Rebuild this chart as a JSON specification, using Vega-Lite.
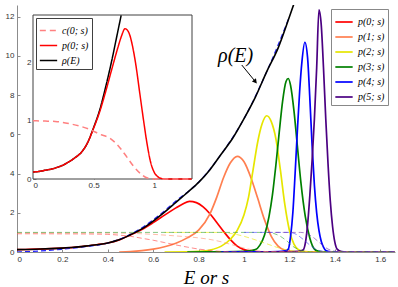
{
"$schema": "https://vega.github.io/schema/vega-lite/v6.json",
"width": 378, "height": 247,
"autosize": "none",
"padding": {"left": 17, "top": 5, "right": 3, "bottom": 35},
"background": "white",
"config": {"view": {"stroke": null},
 "axis": {"grid": false, "domainColor": "#8c8c8c", "tickColor": "#8c8c8c", "labelFont": "Liberation Sans", "labelFontSize": 8, "labelColor": "#333333", "tickSize": -3, "labelPadding": 6}},
"datasets": {
"main": [
{"k":"ρ(E)","s":0,"v":0.12},{"k":"ρ(E)","s":0.05,"v":0.13},{"k":"ρ(E)","s":0.1,"v":0.15},{"k":"ρ(E)","s":0.15,"v":0.17},{"k":"ρ(E)","s":0.2,"v":0.2},{"k":"ρ(E)","s":0.25,"v":0.24},{"k":"ρ(E)","s":0.3,"v":0.3},{"k":"ρ(E)","s":0.35,"v":0.37},{"k":"ρ(E)","s":0.4,"v":0.46},{"k":"ρ(E)","s":0.45,"v":0.62},{"k":"ρ(E)","s":0.5,"v":0.88},{"k":"ρ(E)","s":0.55,"v":1.18},{"k":"ρ(E)","s":0.6,"v":1.58},{"k":"ρ(E)","s":0.65,"v":2.03},{"k":"ρ(E)","s":0.7,"v":2.53},{"k":"ρ(E)","s":0.728,"v":2.81},{"k":"ρ(E)","s":0.75,"v":3.03},{"k":"ρ(E)","s":0.8,"v":3.55},{"k":"ρ(E)","s":0.85,"v":4.2},{"k":"ρ(E)","s":0.9,"v":5.0},{"k":"ρ(E)","s":0.95,"v":5.8},{"k":"ρ(E)","s":1.0,"v":6.8},{"k":"ρ(E)","s":1.05,"v":7.9},{"k":"ρ(E)","s":1.1,"v":9.2},{"k":"ρ(E)","s":1.15,"v":10.4},{"k":"ρ(E)","s":1.2,"v":12.0},{"k":"ρ(E)","s":1.23,"v":13.0},
{"k":"p(0; s)","s":0,"v":0.12},{"k":"p(0; s)","s":0.05,"v":0.13},{"k":"p(0; s)","s":0.1,"v":0.15},{"k":"p(0; s)","s":0.15,"v":0.17},{"k":"p(0; s)","s":0.2,"v":0.2},{"k":"p(0; s)","s":0.25,"v":0.24},{"k":"p(0; s)","s":0.3,"v":0.3},{"k":"p(0; s)","s":0.35,"v":0.37},{"k":"p(0; s)","s":0.4,"v":0.46},{"k":"p(0; s)","s":0.45,"v":0.62},{"k":"p(0; s)","s":0.5,"v":0.87},{"k":"p(0; s)","s":0.55,"v":1.15},{"k":"p(0; s)","s":0.6,"v":1.5},{"k":"p(0; s)","s":0.65,"v":1.88},{"k":"p(0; s)","s":0.7,"v":2.25},{"k":"p(0; s)","s":0.73,"v":2.45},{"k":"p(0; s)","s":0.76,"v":2.58},{"k":"p(0; s)","s":0.79,"v":2.52},{"k":"p(0; s)","s":0.82,"v":2.3},{"k":"p(0; s)","s":0.85,"v":1.95},{"k":"p(0; s)","s":0.88,"v":1.5},{"k":"p(0; s)","s":0.91,"v":1.05},{"k":"p(0; s)","s":0.94,"v":0.63},{"k":"p(0; s)","s":0.97,"v":0.3},{"k":"p(0; s)","s":1.0,"v":0.12},{"k":"p(0; s)","s":1.03,"v":0.04},{"k":"p(0; s)","s":1.06,"v":0.01},{"k":"p(0; s)","s":1.1,"v":0},{"k":"p(0; s)","s":1.31,"v":0},{"k":"p(0; s)","s":1.665,"v":0},
{"k":"p(1; s)","s":0.45,"v":0},{"k":"p(1; s)","s":0.5,"v":0.02},{"k":"p(1; s)","s":0.55,"v":0.07},{"k":"p(1; s)","s":0.6,"v":0.15},{"k":"p(1; s)","s":0.65,"v":0.27},{"k":"p(1; s)","s":0.7,"v":0.45},{"k":"p(1; s)","s":0.75,"v":0.72},{"k":"p(1; s)","s":0.8,"v":1.12},{"k":"p(1; s)","s":0.85,"v":1.95},{"k":"p(1; s)","s":0.88,"v":2.8},{"k":"p(1; s)","s":0.91,"v":3.8},{"k":"p(1; s)","s":0.94,"v":4.55},{"k":"p(1; s)","s":0.97,"v":4.88},{"k":"p(1; s)","s":1.0,"v":4.6},{"k":"p(1; s)","s":1.03,"v":3.8},{"k":"p(1; s)","s":1.06,"v":2.75},{"k":"p(1; s)","s":1.09,"v":1.65},{"k":"p(1; s)","s":1.12,"v":0.8},{"k":"p(1; s)","s":1.15,"v":0.3},{"k":"p(1; s)","s":1.18,"v":0.09},{"k":"p(1; s)","s":1.22,"v":0.02},{"k":"p(1; s)","s":1.26,"v":0},{"k":"p(1; s)","s":1.665,"v":0},
{"k":"p(2; s)","s":0.65,"v":0},{"k":"p(2; s)","s":0.75,"v":0.01},{"k":"p(2; s)","s":0.8,"v":0.03},{"k":"p(2; s)","s":0.85,"v":0.1},{"k":"p(2; s)","s":0.9,"v":0.3},{"k":"p(2; s)","s":0.94,"v":0.65},{"k":"p(2; s)","s":0.97,"v":1.1},{"k":"p(2; s)","s":1.0,"v":1.9},{"k":"p(2; s)","s":1.02,"v":2.8},{"k":"p(2; s)","s":1.04,"v":4.2},{"k":"p(2; s)","s":1.06,"v":5.6},{"k":"p(2; s)","s":1.08,"v":6.55},{"k":"p(2; s)","s":1.1,"v":6.95},{"k":"p(2; s)","s":1.12,"v":6.65},{"k":"p(2; s)","s":1.14,"v":5.8},{"k":"p(2; s)","s":1.16,"v":4.2},{"k":"p(2; s)","s":1.18,"v":2.4},{"k":"p(2; s)","s":1.2,"v":1.1},{"k":"p(2; s)","s":1.22,"v":0.4},{"k":"p(2; s)","s":1.24,"v":0.12},{"k":"p(2; s)","s":1.27,"v":0.02},{"k":"p(2; s)","s":1.3,"v":0},{"k":"p(2; s)","s":1.665,"v":0},
{"k":"p(3; s)","s":0.75,"v":0},{"k":"p(3; s)","s":0.9,"v":0.01},{"k":"p(3; s)","s":1.0,"v":0.03},{"k":"p(3; s)","s":1.05,"v":0.12},{"k":"p(3; s)","s":1.07,"v":0.35},{"k":"p(3; s)","s":1.09,"v":0.85},{"k":"p(3; s)","s":1.11,"v":1.8},{"k":"p(3; s)","s":1.125,"v":2.9},{"k":"p(3; s)","s":1.14,"v":4.4},{"k":"p(3; s)","s":1.155,"v":6.1},{"k":"p(3; s)","s":1.17,"v":7.7},{"k":"p(3; s)","s":1.185,"v":8.7},{"k":"p(3; s)","s":1.195,"v":8.85},{"k":"p(3; s)","s":1.205,"v":8.5},{"k":"p(3; s)","s":1.22,"v":7.2},{"k":"p(3; s)","s":1.235,"v":5.4},{"k":"p(3; s)","s":1.25,"v":3.6},{"k":"p(3; s)","s":1.27,"v":1.8},{"k":"p(3; s)","s":1.29,"v":0.7},{"k":"p(3; s)","s":1.31,"v":0.15},{"k":"p(3; s)","s":1.33,"v":0.03},{"k":"p(3; s)","s":1.36,"v":0},{"k":"p(3; s)","s":1.665,"v":0},
{"k":"p(4; s)","s":0.9,"v":0},{"k":"p(4; s)","s":1.1,"v":0.01},{"k":"p(4; s)","s":1.15,"v":0.02},{"k":"p(4; s)","s":1.18,"v":0.06},{"k":"p(4; s)","s":1.195,"v":0.15},{"k":"p(4; s)","s":1.205,"v":0.8},{"k":"p(4; s)","s":1.215,"v":2.0},{"k":"p(4; s)","s":1.225,"v":4.0},{"k":"p(4; s)","s":1.235,"v":6.2},{"k":"p(4; s)","s":1.245,"v":8.2},{"k":"p(4; s)","s":1.255,"v":9.7},{"k":"p(4; s)","s":1.268,"v":10.7},{"k":"p(4; s)","s":1.28,"v":9.9},{"k":"p(4; s)","s":1.29,"v":7.8},{"k":"p(4; s)","s":1.3,"v":5.4},{"k":"p(4; s)","s":1.31,"v":3.4},{"k":"p(4; s)","s":1.32,"v":2.0},{"k":"p(4; s)","s":1.33,"v":1.1},{"k":"p(4; s)","s":1.34,"v":0.55},{"k":"p(4; s)","s":1.35,"v":0.25},{"k":"p(4; s)","s":1.36,"v":0.08},{"k":"p(4; s)","s":1.38,"v":0.01},{"k":"p(4; s)","s":1.4,"v":0},{"k":"p(4; s)","s":1.665,"v":0},
{"k":"p(5; s)","s":1.07,"v":0},{"k":"p(5; s)","s":1.2,"v":0.01},{"k":"p(5; s)","s":1.24,"v":0.03},{"k":"p(5; s)","s":1.26,"v":0.1},{"k":"p(5; s)","s":1.27,"v":0.45},{"k":"p(5; s)","s":1.28,"v":1.4},{"k":"p(5; s)","s":1.29,"v":2.9},{"k":"p(5; s)","s":1.3,"v":4.7},{"k":"p(5; s)","s":1.31,"v":6.8},{"k":"p(5; s)","s":1.32,"v":9.4},{"k":"p(5; s)","s":1.33,"v":12.35},{"k":"p(5; s)","s":1.34,"v":11.6},{"k":"p(5; s)","s":1.35,"v":9.4},{"k":"p(5; s)","s":1.36,"v":6.8},{"k":"p(5; s)","s":1.37,"v":4.5},{"k":"p(5; s)","s":1.38,"v":2.6},{"k":"p(5; s)","s":1.39,"v":1.3},{"k":"p(5; s)","s":1.4,"v":0.5},{"k":"p(5; s)","s":1.41,"v":0.15},{"k":"p(5; s)","s":1.43,"v":0.02},{"k":"p(5; s)","s":1.45,"v":0},{"k":"p(5; s)","s":1.665,"v":0},
{"k":"c0","s":0,"v":0.93},{"k":"c0","s":0.2,"v":0.925},{"k":"c0","s":0.3,"v":0.92},{"k":"c0","s":0.4,"v":0.9},{"k":"c0","s":0.45,"v":0.86},{"k":"c0","s":0.5,"v":0.8},{"k":"c0","s":0.55,"v":0.7},{"k":"c0","s":0.6,"v":0.6},{"k":"c0","s":0.65,"v":0.48},{"k":"c0","s":0.7,"v":0.36},{"k":"c0","s":0.75,"v":0.25},{"k":"c0","s":0.8,"v":0.15},{"k":"c0","s":0.85,"v":0.08},{"k":"c0","s":0.9,"v":0.03},{"k":"c0","s":0.95,"v":0.01},{"k":"c0","s":1.0,"v":0},{"k":"c0","s":1.665,"v":0},
{"k":"c1","s":0,"v":0.97},{"k":"c1","s":0.4,"v":0.965},{"k":"c1","s":0.5,"v":0.95},{"k":"c1","s":0.6,"v":0.9},{"k":"c1","s":0.7,"v":0.82},{"k":"c1","s":0.8,"v":0.72},{"k":"c1","s":0.85,"v":0.64},{"k":"c1","s":0.9,"v":0.52},{"k":"c1","s":0.95,"v":0.36},{"k":"c1","s":1.0,"v":0.2},{"k":"c1","s":1.05,"v":0.08},{"k":"c1","s":1.1,"v":0.02},{"k":"c1","s":1.15,"v":0},{"k":"c1","s":1.665,"v":0},
{"k":"c2","s":0.65,"v":1},{"k":"c2","s":0.9,"v":1},{"k":"c2","s":0.95,"v":0.93},{"k":"c2","s":1.0,"v":0.8},{"k":"c2","s":1.05,"v":0.62},{"k":"c2","s":1.1,"v":0.42},{"k":"c2","s":1.15,"v":0.22},{"k":"c2","s":1.2,"v":0.08},{"k":"c2","s":1.25,"v":0.02},{"k":"c2","s":1.3,"v":0},{"k":"c2","s":1.665,"v":0},
{"k":"c3","s":0,"v":1},{"k":"c3","s":1.1,"v":1},{"k":"c3","s":1.13,"v":0.95},{"k":"c3","s":1.16,"v":0.8},{"k":"c3","s":1.19,"v":0.55},{"k":"c3","s":1.22,"v":0.25},{"k":"c3","s":1.25,"v":0.08},{"k":"c3","s":1.28,"v":0.02},{"k":"c3","s":1.3,"v":0},{"k":"c3","s":1.665,"v":0},
{"k":"c4","s":1.0,"v":1},{"k":"c4","s":1.2,"v":1},{"k":"c4","s":1.23,"v":0.9},{"k":"c4","s":1.26,"v":0.65},{"k":"c4","s":1.29,"v":0.35},{"k":"c4","s":1.32,"v":0.12},{"k":"c4","s":1.35,"v":0.03},{"k":"c4","s":1.38,"v":0},{"k":"c4","s":1.665,"v":0},
{"k":"c5","s":1.1,"v":1},{"k":"c5","s":1.25,"v":1},{"k":"c5","s":1.28,"v":0.92},{"k":"c5","s":1.31,"v":0.7},{"k":"c5","s":1.34,"v":0.4},{"k":"c5","s":1.37,"v":0.15},{"k":"c5","s":1.4,"v":0.04},{"k":"c5","s":1.43,"v":0},{"k":"c5","s":1.665,"v":0},
{"k":"fit","s":0,"v":0.0},{"k":"fit","s":0.1,"v":0.05},{"k":"fit","s":0.2,"v":0.14},{"k":"fit","s":0.3,"v":0.27},{"k":"fit","s":0.4,"v":0.46},{"k":"fit","s":0.5,"v":0.9},{"k":"fit","s":0.6,"v":1.64},{"k":"fit","s":0.7,"v":2.6},{"k":"fit","s":0.8,"v":3.56},{"k":"fit","s":0.9,"v":5.0},{"k":"fit","s":1.0,"v":6.8},{"k":"fit","s":1.1,"v":9.2},{"k":"fit","s":1.2,"v":12.0},
{"k":"c(0; s)","s":0,"v":1.0},{"k":"c(0; s)","s":0.1,"v":0.995},{"k":"c(0; s)","s":0.2,"v":0.985},{"k":"c(0; s)","s":0.3,"v":0.95},{"k":"c(0; s)","s":0.4,"v":0.9},{"k":"c(0; s)","s":0.47,"v":0.85},{"k":"c(0; s)","s":0.55,"v":0.77},{"k":"c(0; s)","s":0.636,"v":0.7},{"k":"c(0; s)","s":0.7,"v":0.58},{"k":"c(0; s)","s":0.774,"v":0.38},{"k":"c(0; s)","s":0.83,"v":0.22},{"k":"c(0; s)","s":0.884,"v":0.1},{"k":"c(0; s)","s":0.94,"v":0.02},{"k":"c(0; s)","s":1.0,"v":0},{"k":"c(0; s)","s":1.31,"v":0}
],
"notes": [{"s":0.963,"v":9.69,"label":"ρ(E)"}],
"arrow": [{"s":0.99,"v":9.54,"s2":1.05,"v2":8.69}],
"box": [{"s":0,"s2":1.313,"v":0,"v2":2.816}]
},
"layer": [
{
 "data": {"name": "main"},
 "encoding": {
  "x": {"field":"s","type":"quantitative","scale":{"domain":[0,1.665],"nice":false,"zero":false},
        "axis":{"values":[0,0.2,0.4,0.6,0.8,1,1.2,1.4,1.6],"format":"~g","title":"E or s","titleFont":"Liberation Serif","titleFontSize":19,"titleFontWeight":"normal","titleFontStyle":"italic","titleColor":"#000000","titlePadding":5}},
  "y": {"field":"v","type":"quantitative","scale":{"domain":[0,12.6],"nice":false},
        "axis":{"values":[0,2,4,6,8,10,12],"title":null}}
 },
 "layer": [
  {"transform":[{"filter":{"field":"k","oneOf":["p(0; s)","p(1; s)","p(2; s)","p(3; s)","p(4; s)","p(5; s)"]}}],
   "mark":{"type":"line","strokeWidth":1.7,"interpolate":"monotone","clip":true},
   "encoding":{"color":{"field":"k","type":"nominal",
     "scale":{"domain":["p(0; s)","p(1; s)","p(2; s)","p(3; s)","p(4; s)","p(5; s)"],"range":["#ff0000","#ff7f50","#e6e600","#008000","#0000ff","#4b0082"]},
     "legend":{"orient":"none","legendX":314,"legendY":4,"title":null,"symbolType":"stroke","symbolSize":300,"symbolStrokeWidth":1.7,"labelFont":"Liberation Serif","labelFontStyle":"italic","labelFontSize":10,"labelColor":"#000","strokeColor":"#888888","fillColor":"white","padding":3,"rowPadding":0,"labelOffset":4}}}},
  {"transform":[{"filter":{"field":"k","oneOf":["c0","c1","c2","c3","c4","c5"]}}],
   "mark":{"type":"line","strokeWidth":1,"strokeDash":[5,3],"opacity":0.6,"interpolate":"monotone","clip":true},
   "encoding":{"color":{"field":"k","type":"nominal","scale":{"domain":["c0","c1","c2","c3","c4","c5"],"range":["#ff4040","#ff9070","#e6e600","#30a030","#4040ff","#7030b0"]},"legend":null}}},
  {"transform":[{"filter":{"field":"k","equal":"fit"}}],
   "mark":{"type":"line","strokeWidth":1.2,"strokeDash":[5,3],"color":"#2020ff","interpolate":"monotone","clip":true}},
  {"transform":[{"filter":{"field":"k","equal":"ρ(E)"}}],
   "mark":{"type":"line","strokeWidth":1.6,"color":"#000000","interpolate":"monotone","clip":true}},
  {"data":{"name":"notes"},"mark":{"type":"text","font":"Liberation Serif","fontSize":20,"fontStyle":"italic","baseline":"alphabetic","align":"center","color":"#000"},
   "encoding":{"text":{"field":"label"}}},
  {"data":{"name":"arrow"},"mark":{"type":"rule","strokeWidth":1,"color":"#000"},
   "encoding":{"x2":{"field":"s2"},"y2":{"field":"v2"}}},
  {"data":{"name":"arrow"},"mark":{"type":"point","shape":"triangle-up","filled":true,"size":28,"angle":140,"color":"#000","opacity":1},
   "encoding":{"x":{"field":"s2","type":"quantitative"},"y":{"field":"v2","type":"quantitative"}}}
 ],
 "resolve":{"scale":{"color":"independent"}}
},
{
 "data": {"name": "main"},
 "encoding": {
  "x": {"field":"s","type":"quantitative","scale":{"domain":[0,1.313],"range":[16,175],"nice":false,"zero":false},
        "axis":{"orient":"bottom","offset":-73,"values":[0,0.5,1],"format":"~g","title":null,"domain":false,"labelPadding":5}},
  "y": {"field":"v","type":"quantitative","scale":{"domain":[0,2.816],"range":[174,10],"nice":false},
        "axis":{"orient":"left","offset":-16,"values":[0,1,2],"title":null,"domain":false,"labelPadding":5}}
 },
 "layer": [
  {"data":{"name":"box"},"mark":{"type":"rect","fill":"white","stroke":"#404040","strokeWidth":1},
   "encoding":{"x2":{"field":"s2"},"y2":{"field":"v2"}}},
  {"transform":[{"filter":{"field":"k","oneOf":["c(0; s)","p(0; s)","ρ(E)"]}},{"filter":"datum.s <= 1.313 && datum.v <= 2.816"}],
   "mark":{"type":"line","interpolate":"monotone","strokeWidth":1.5},
   "encoding":{
    "color":{"field":"k","type":"nominal","scale":{"domain":["c(0; s)","p(0; s)","ρ(E)"],"range":["#ff8080","#ff0000","#000000"]},
      "legend":{"orient":"none","legendX":19,"legendY":13,"title":null,"symbolType":"stroke","symbolSize":300,"symbolStrokeWidth":1.5,"labelFont":"Liberation Serif","labelFontStyle":"italic","labelFontSize":10,"labelColor":"#000","strokeColor":"#404040","fillColor":"white","padding":3,"rowPadding":0,"labelOffset":4}},
    "strokeDash":{"field":"k","type":"nominal","scale":{"domain":["c(0; s)","p(0; s)","ρ(E)"],"range":[[6,4],[1,0],[1,0]]}},
    "strokeWidth":{"field":"k","type":"nominal","scale":{"domain":["c(0; s)","p(0; s)","ρ(E)"],"range":[0.9,1.6,1.6]},"legend":null}}}
 ]
}
],
"resolve":{"scale":{"x":"independent","y":"independent","color":"independent","strokeDash":"independent"}}
}
